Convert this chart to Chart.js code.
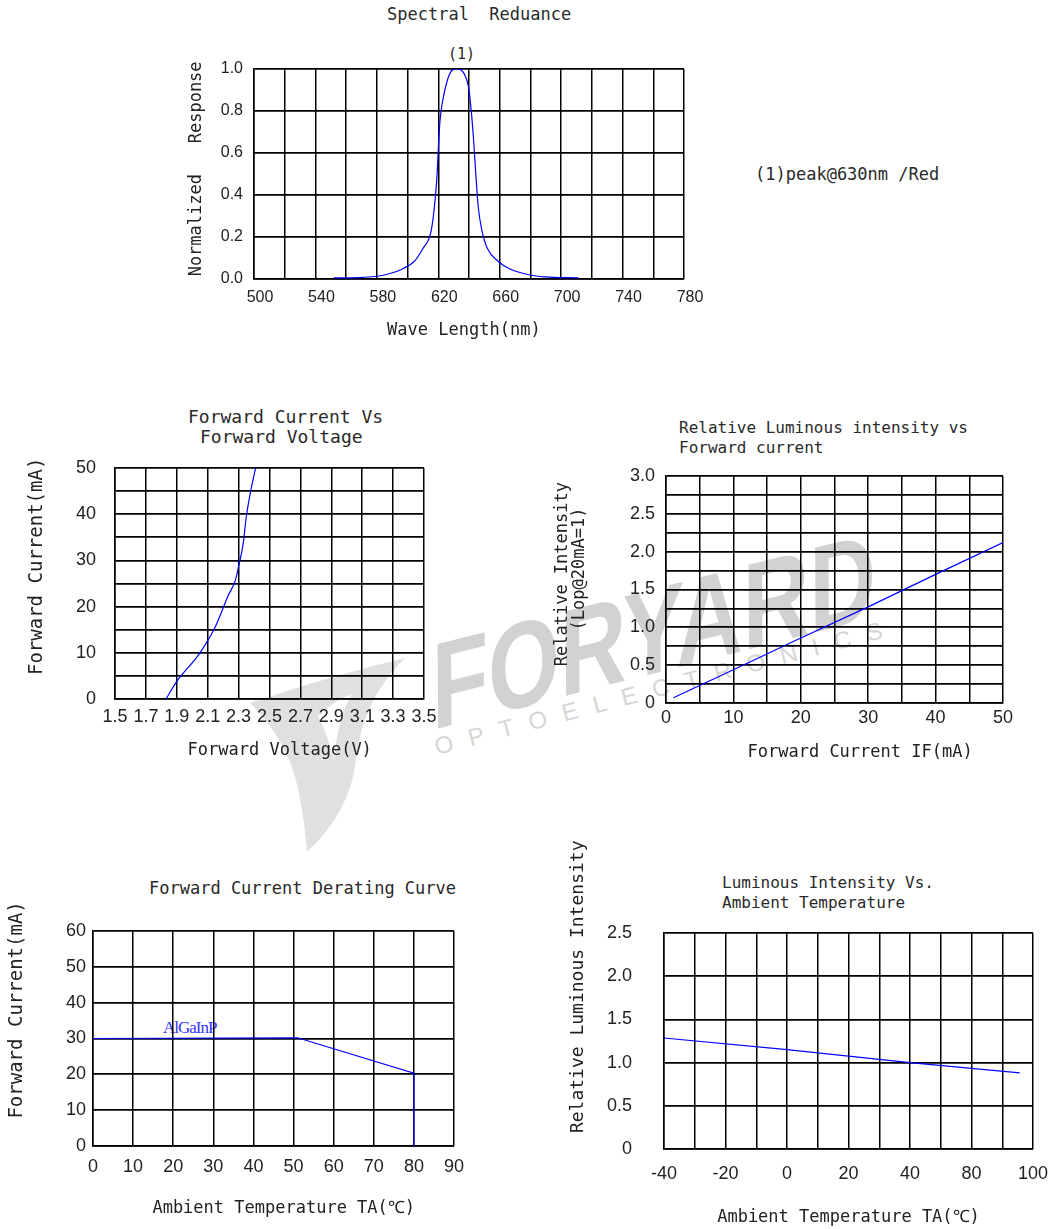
<!DOCTYPE html>
<html>
<head>
<meta charset="utf-8">
<script src="https://cdn.jsdelivr.net/npm/chart.js@4/dist/chart.umd.min.js"></script>
<style>
  html, body { margin:0; padding:0; background:#fff; }
  body { position:relative; width:1052px; height:1229px; overflow:hidden; }
  .t { position:absolute; white-space:pre; font-family:'DejaVu Sans Mono', monospace; color:#2a2a2a; line-height:1; }
  .wm { position:absolute; white-space:pre; line-height:1; font-family:'Liberation Sans', Arial, sans-serif; }
</style>
</head>
<body>
<!-- watermark (behind the charts) -->
<svg style="position:absolute;left:0;top:0" width="1052" height="1229">
  <path d="M 250 703 Q 330 676 405 658 Q 362 700 356 760 Q 350 812 307 852 Q 302 792 290 762 Q 276 728 250 703 Z" fill="#e0e0e0"/>
  <path d="M 318 716 Q 335 700 352 694 Q 338 716 334 760 Q 328 736 318 716 Z" fill="#ffffff"/>
</svg>
<div class="wm" style="left:432px;top:629px;font-size:119px;font-weight:bold;color:#d2d2d2;transform-origin:0 100.7px;transform:rotate(-14.3deg) skewX(-14deg) scaleX(0.8);">FORYARD</div>
<div class="wm" style="left:437px;top:735px;font-size:24px;letter-spacing:16px;color:#d6d6d6;transform-origin:0 20.3px;transform:rotate(-14.7deg);">OPTOELECTRONICS</div>

<!-- titles and notes -->
<div class="t" style="left:387px;top:6px;font-size:17px;">Spectral  Reduance</div>
<div class="t" style="left:448px;top:47px;font-size:15px;">(1)</div>
<div class="t" style="left:755px;top:166px;font-size:17px;">(1)peak@630nm /Red</div>
<div class="t" style="left:188px;top:408px;font-size:18px;">Forward Current Vs</div>
<div class="t" style="left:200px;top:428px;font-size:18px;">Forward Voltage</div>
<div class="t" style="left:679px;top:420px;font-size:16px;">Relative Luminous intensity vs</div>
<div class="t" style="left:679px;top:440px;font-size:16px;">Forward current</div>
<div class="t" style="left:149px;top:880px;font-size:17px;">Forward Current Derating Curve</div>
<div class="t" style="left:722px;top:875px;font-size:16px;">Luminous Intensity Vs.</div>
<div class="t" style="left:722px;top:895px;font-size:16px;">Ambient Temperature</div>
<div class="t" style="left:163px;top:1019px;font-size:17px;letter-spacing:-1px;font-family:'Liberation Serif', serif;color:#3535ff;">AlGaInP</div>

<script>
// ---------------- DATA ----------------
// 1) Spectral response
const spectralWavelength = [552, 571, 580, 588, 597, 605, 610, 615, 617, 619, 620, 621, 623, 626, 629, 632, 635, 638.5, 640, 641.6, 643, 644.4, 646, 648.4, 652, 658.7, 666.4, 679.6, 689.5, 711.4];
const spectralResponse   = [0.005, 0.008, 0.013, 0.025, 0.049, 0.089, 0.145, 0.217, 0.312, 0.471, 0.616, 0.744, 0.854, 0.949, 0.994, 1.0, 0.994, 0.949, 0.901, 0.79, 0.662, 0.503, 0.344, 0.232, 0.145, 0.086, 0.049, 0.019, 0.010, 0.005];
const spectralXLabels = ['500', '', '540', '', '580', '', '620', '', '660', '', '700', '', '740', '', '780'];
const spectralYLabels = ['0.0', '0.2', '0.4', '0.6', '0.8', '1.0'];

// 2) Forward current vs forward voltage
const ivVoltage = [1.83, 1.90, 2.05, 2.15, 2.23, 2.28, 2.30, 2.33, 2.35, 2.38, 2.41];
const ivCurrent = [0, 3.8, 10, 15.7, 22.2, 25.8, 28.7, 33.7, 39.5, 45.3, 50];
const ivXLabels = ['1.5', '1.7', '1.9', '2.1', '2.3', '2.5', '2.7', '2.9', '3.1', '3.3', '3.5'];
const ivYLabels = ['0', '', '10', '', '20', '', '30', '', '40', '', '50'];

// 3) Relative luminous intensity vs forward current
const livCurrent   = [1.1, 10, 20, 30, 40, 50];
const livIntensity = [0.07, 0.44, 0.86, 1.27, 1.70, 2.12];
const livXLabels = ['0', '', '10', '', '20', '', '30', '', '40', '', '50'];
const livYLabels = ['0', '', '0.5', '', '1.0', '', '1.5', '', '2.0', '', '2.5', '', '3.0'];

// 4) Forward current derating curve
const deratingTemp    = [0, 51, 80, 80];
const deratingCurrent = [30, 30.2, 20.3, 0];
const deratingXLabels = ['0', '10', '20', '30', '40', '50', '60', '70', '80', '90'];
const deratingYLabels = ['0', '10', '20', '30', '40', '50', '60'];

// 5) Luminous intensity vs ambient temperature
const ambientTemp      = [-40, 0, 40, 75.7];
const ambientIntensity = [1.285, 1.15, 1.0, 0.88];
const ambientXLabels = ['-40', '', '-20', '', '0', '', '20', '', '40', '', '80', '', '100'];
const ambientYLabels = ['0', '0.5', '1.0', '1.5', '2.0', '2.5'];

// ---------------- RENDERING ----------------
const FONT_MONO = "'DejaVu Sans Mono', monospace";
const FONT_TICK = "'Liberation Sans', Arial, sans-serif";
const INK = '#222';
const LINE = '#0000ff';

function buildChart(s) {
  const c = document.createElement('canvas');
  const W = Math.round(s.wY + (s.R - s.L) + s.padRight);
  const H = Math.round(s.padTop + (s.B - s.T) + s.hX);
  c.width = W; c.height = H;
  c.style.cssText = 'position:absolute;left:' + (s.L - s.wY) + 'px;top:' + (s.T - s.padTop) + 'px;width:' + W + 'px;height:' + H + 'px;';
  document.body.appendChild(c);
  return new Chart(c, {
    type: 'line',
    data: {
      datasets: [{
        data: s.xData.map((v, i) => ({ x: v, y: s.yData[i] })),
        borderColor: LINE, borderWidth: 1.2, pointRadius: 0, fill: false,
        tension: 0, cubicInterpolationMode: s.smooth ? 'monotone' : 'default'
      }]
    },
    options: {
      responsive: false, animation: false,
      layout: { padding: { top: s.padTop, right: s.padRight, left: 0, bottom: 0 } },
      plugins: { legend: { display: false }, tooltip: { enabled: false }, title: { display: false } },
      scales: {
        x: {
          type: 'linear', min: s.x.min, max: s.x.max,
          ticks: {
            stepSize: s.x.step, autoSkip: false, maxRotation: 0, minRotation: 0,
            padding: s.x.tickPad, labelOffset: s.x.offset || 0, color: INK,
            font: { family: FONT_TICK, size: s.tickSize },
            callback: (v, i) => (s.x.labels[i] !== undefined ? s.x.labels[i] : '')
          },
          grid: { color: '#000', lineWidth: 1.5, drawTicks: false },
          border: { color: '#000', width: 1.5 },
          title: { display: true, text: s.x.title, color: INK,
                   font: { family: FONT_MONO, size: s.x.titleSize, lineHeight: 1 },
                   padding: { top: 0, bottom: s.x.titlePad } },
          afterFit: (a) => { a.height = s.hX; }
        },
        y: {
          type: 'linear', min: s.y.min, max: s.y.max,
          ticks: {
            stepSize: s.y.step, autoSkip: false, padding: s.y.tickPad, color: INK,
            font: { family: FONT_TICK, size: s.tickSize },
            callback: (v, i) => (s.y.labels[i] !== undefined ? s.y.labels[i] : '')
          },
          grid: { color: '#000', lineWidth: 1.7, drawTicks: false },
          border: { color: '#000', width: 1.5 },
          title: { display: true, text: s.y.title, color: INK,
                   font: { family: FONT_MONO, size: s.y.titleSize, lineHeight: 1 },
                   padding: { top: s.y.titlePad, bottom: 0 } },
          afterFit: (a) => { a.width = s.wY; }
        }
      }
    }
  });
}

// 1) Spectral
buildChart({
  L: 254, R: 684, T: 69, B: 279, wY: 69, padTop: 40, padRight: 40, hX: 60, tickSize: 16, smooth: true,
  xData: spectralWavelength, yData: spectralResponse,
  x: { min: 500, max: 780, step: 20, labels: spectralXLabels, tickPad: 9.4, offset: 6,
       title: 'Wave Length(nm) ', titleSize: 17, titlePad: 0 },
  y: { min: 0, max: 1, step: 0.2, labels: spectralYLabels, tickPad: 11,
       title: ' Normalized   Response', titleSize: 17, titlePad: 3.5 }
});

// 2) Forward current vs forward voltage
buildChart({
  L: 115, R: 424, T: 468, B: 699, wY: 95, padTop: 50, padRight: 40, hX: 62, tickSize: 18, smooth: true,
  xData: ivVoltage, yData: ivCurrent,
  x: { min: 1.5, max: 3.5, step: 0.2, labels: ivXLabels, tickPad: 7.2,
       title: '  Forward Voltage(V)', titleSize: 17, titlePad: 1.5 },
  y: { min: 0, max: 50, step: 5, labels: ivYLabels, tickPad: 19,
       title: '   Forward Current(mA)', titleSize: 19, titlePad: 7.5 }
});

// 3) Relative luminous intensity vs forward current
buildChart({
  L: 666, R: 1003, T: 476, B: 703, wY: 121, padTop: 50, padRight: 40, hX: 60, tickSize: 18, smooth: false,
  xData: livCurrent, yData: livIntensity,
  x: { min: 0, max: 50, step: 5, labels: livXLabels, tickPad: 4,
       title: '     Forward Current IF(mA)', titleSize: 17, titlePad: 1.5 },
  y: { min: 0, max: 3, step: 0.25, labels: livYLabels, tickPad: 11,
       title: ['   Relative Intensity', '    (Lop@20mA=1)'], titleSize: 17, titlePad: 9 }
});

// 4) Forward current derating curve
buildChart({
  L: 93, R: 454, T: 931, B: 1146, wY: 93, padTop: 50, padRight: 40, hX: 72, tickSize: 18, smooth: false,
  xData: deratingTemp, yData: deratingCurrent,
  x: { min: 0, max: 90, step: 10, labels: deratingXLabels, tickPad: 10,
       title: '  Ambient Temperature TA(℃)', titleSize: 17, titlePad: 0.5 },
  y: { min: 0, max: 60, step: 10, labels: deratingYLabels, tickPad: 7,
       title: '     Forward Current(mA)', titleSize: 19, titlePad: 7.2 }
});

// 5) Luminous intensity vs ambient temperature
buildChart({
  L: 664, R: 1033, T: 933, B: 1149, wY: 104, padTop: 100, padRight: 40, hX: 78, tickSize: 18, smooth: false,
  xData: ambientTemp, yData: ambientIntensity,
  x: { min: -40, max: 80, step: 10, labels: ambientXLabels, tickPad: 14,
       title: 'Ambient Temperature TA(℃)', titleSize: 17, titlePad: 0.5 },
  y: { min: 0, max: 2.5, step: 0.5, labels: ambientYLabels, tickPad: 32,
       title: '          Relative Luminous Intensity', titleSize: 18, titlePad: 9 }
});
</script>
</body>
</html>
